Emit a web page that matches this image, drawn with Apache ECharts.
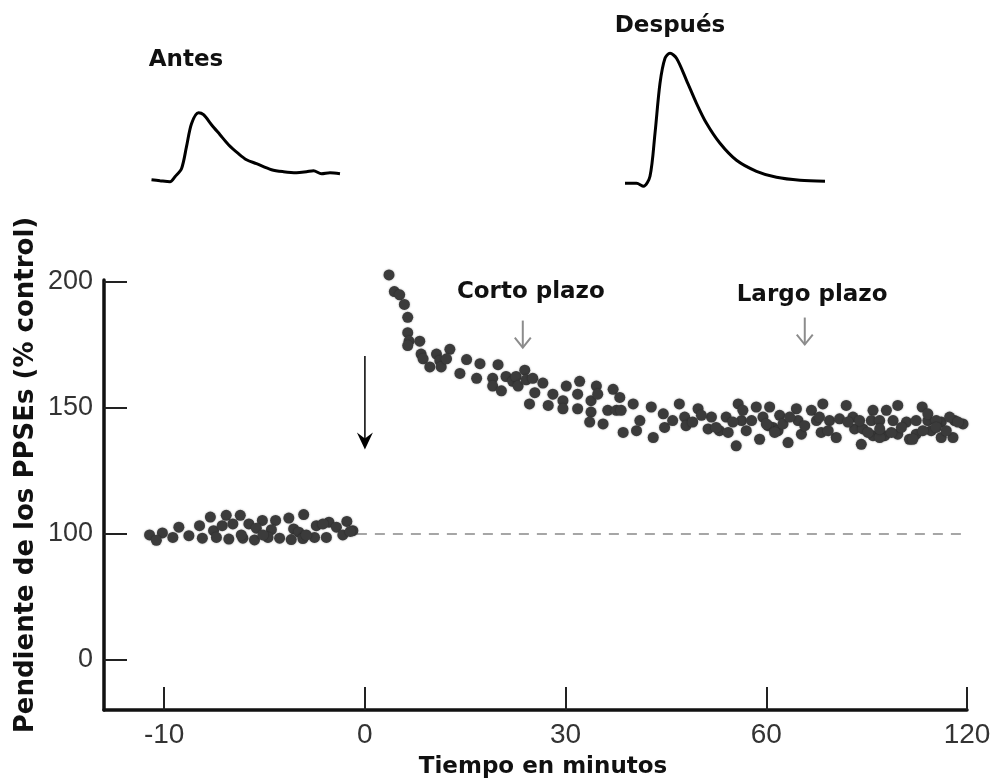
<!DOCTYPE html>
<html><head><meta charset="utf-8">
<script src="https://cdn.jsdelivr.net/npm/echarts@6/dist/echarts.min.js"></script>
<style>html,body{margin:0;padding:0;background:#fff}#c{width:1005px;height:784px}</style>
</head><body><div id="c"></div>
<script>
// ---- tick labels (broken axes: evenly spaced ticks) ----
const tickMinutes = [-10, 0, 30, 60, 120];
const tickValues = [0, 100, 150, 200];

// ---- data: slope of EPSP (% control) vs time (min) ----
const preMinutes = [-7.70,-6.91,-6.21,-5.11,-4.45,-3.79,-3.05,-1.79,-0.90,
  -10.09,-9.27,-8.24,-7.54,-7.11,-6.58,-5.78,-5.41,-4.66,-3.55,-3.29,-2.42,-2.09,-1.42,-0.60,
  -10.73,-10.39,-9.57,-8.77,-8.10,-7.40,-6.78,-6.08,-5.50,-4.83,-4.25,-3.67,-3.09,-2.51,-1.92,-1.10,-2.92,-6.16,-5.08,-0.73];
const preValues = [106.7,107.4,107.4,105.4,105.4,106.3,107.7,104.7,105.0,
  100.4,102.7,103.3,101.3,103.3,104.0,104.0,102.3,101.7,102.0,100.7,103.3,104.0,102.7,101.3,
  99.3,95.0,97.3,98.7,96.7,97.3,96.0,96.7,95.3,97.3,96.7,95.6,96.4,97.3,97.3,99.3,99.3,99.3,99.3,101.0];

const postMinutes = [3.6,4.4,5.2,5.9,6.4,6.4,6.6,8.2,6.4,8.4,8.7,9.7,10.7,11.2,11.4,12.7,12.2,14.2,15.2,16.7,
  17.2,19.9,19.1,19.1,20.4,21.1,22.1,22.6,22.9,23.9,24.1,25.1,25.4,24.6,26.6,27.4,28.1,30.1,29.6,29.6,
  32.1,31.8,31.8,33.8,33.8,34.6,34.8,33.6,35.6,36.3,37.1,37.6,38.1,38.3,38.6,40.1,40.6,41.1,42.8,43.1,
  44.6,44.8,46.0,47.0,47.8,48.0,49.8,51.3,51.8,53.0,54.3,54.0,55.5,55.8,56.3,57.0,57.8,58.5,59.0,59.5,
  61.0,62.0,64.0,63.5,65.0,66.5,69.0,69.5,70.5,73.5,75.0,76.9,76.4,78.9,80.9,81.9,83.9,85.9,86.4,88.4,
  88.9,91.9,91.4,91.9,93.9,95.9,95.4,97.9,99.3,99.3,101.9,102.8,104.8,104.8,106.6,108.3,109.3,112.3,112.3,115.8,
  116.3,118.8,
  49.0,50.3,56.5,60.5,62.5,75.9,87.9,90.4,93.9,97.4,103.8,108.3,110.8,114.8,117.3,
  52.5,55.0,60.0,67.0,71.5,78.5,84.4,93.9,100.4,106.8,110.8,113.8];
const postValues = [202.8,196.2,194.9,191.1,186.0,179.9,176.5,176.5,174.8,171.4,169.5,166.3,171.4,168.8,166.3,173.3,169.5,163.7,169.2,161.8,
  167.6,167.2,161.8,158.7,156.8,162.5,160.6,162.5,158.7,165.0,161.2,161.8,156.1,151.6,159.9,151.0,155.5,158.7,152.9,149.7,
  160.6,155.5,149.7,152.9,148.4,158.7,155.5,144.4,143.7,149.1,157.4,149.1,154.2,149.1,140.3,151.6,141.0,145.0,150.4,138.3,
  147.7,142.3,145.0,151.6,146.4,143.0,149.7,141.7,146.4,141.0,140.3,146.4,135.0,151.6,145.0,141.0,145.0,150.4,137.6,146.4,
  150.4,142.3,147.1,141.0,143.7,136.3,149.7,145.0,139.6,149.1,145.0,151.6,140.3,145.0,138.3,145.7,151.0,146.4,141.7,135.6,
  141.7,149.1,145.0,139.0,145.0,149.1,139.0,145.0,151.0,139.6,144.4,137.6,145.0,139.6,150.4,145.0,141.0,144.4,138.3,138.3,
  145.0,143.7,
  144.4,147.1,149.1,143.0,140.3,146.4,145.0,140.3,138.3,140.3,137.6,147.7,145.0,146.4,144.4,
  142.3,144.4,143.7,146.4,143.0,141.0,144.4,141.7,142.3,141.0,142.3,141.0];

const baselineValue = 100;
const baselineSpan = [-0.4, 120.5];

// ---- EPSP traces (time in ms, amplitude in mV, arbitrary) ----
const antesT = [0.3,2,4,5,6.3,7.3,8.3,9.7,10.7,12.3,14,15.7,17.7,19.3,21.3,24.3,26.7,29.3,31.3,32.7,34.3,36,38];
const antesV = [0.2,0.1,0,0.5,1.3,3.5,5.8,6.9,6.7,5.7,4.7,3.7,2.8,2.2,1.8,1.2,1.0,0.9,1.0,1.1,0.8,0.9,0.8];
const despuesT = [0.4,2.7,4.1,5.4,6.4,7.4,8.4,9.4,10.7,12.7,14.7,16.7,19.4,22.7,26.7,30.7,35.4,40.4];
const despuesV = [0,0,-0.3,0.7,5,10,12.5,13,12.5,10.3,8,6,4,2.3,1.2,0.6,0.3,0.2];

// ---- annotations (in data units) ----
const stimArrow = {minute: 0, from: 170.6, to: 133.5};
const phaseArrows = [
  {label: 'Corto plazo', minute: 23.6, from: 184.7, to: 174.0, textMinute: 24.8, textValue: 196.0},
  {label: 'Largo plazo', minute: 71.5, from: 185.9, to: 175.2, textMinute: 73.7, textValue: 194.7}
];

function interp(x, xs, ys) {
  let i = 0;
  if (x <= xs[0]) i = 0;
  else if (x >= xs[xs.length - 1]) i = xs.length - 2;
  else { while (x > xs[i + 1]) i++; }
  return ys[i] + (x - xs[i]) * (ys[i + 1] - ys[i]) / (xs[i + 1] - xs[i]);
}
const tickU = tickMinutes.map((_, i) => i);
const tickV = tickValues.map((_, i) => i);
const toU = m => interp(m, tickMinutes, tickU);
const toV = v => interp(v, tickValues, tickV);

const chart = echarts.init(document.getElementById('c'), null, {renderer: 'canvas'});
const labelFont = '"Liberation Sans", Arial, sans-serif';
const boldFont = '"DejaVu Sans", sans-serif';
const dotStyle = {color: '#3b3b3b', opacity: 1, shadowBlur: 2, shadowColor: 'rgba(0,0,0,0.35)'};

const option = {
  animation: false,
  backgroundColor: '#fff',
  grid: [
    {left: 104, width: 863, top: 280, height: 430},
    {left: 150, width: 200, top: 106.7, height: 80},
    {left: 623, width: 205, top: 43.3, height: 145}
  ],
  xAxis: [
    {
      type: 'value', gridIndex: 0, min: -0.3, max: 4,
      axisLine: {onZero: false, lineStyle: {color: '#111', width: 3.5}},
      axisTick: {inside: true, length: 23, customValues: tickU, lineStyle: {color: '#222', width: 2}},
      axisLabel: {customValues: tickU, margin: 11, fontSize: 28, color: '#333', fontFamily: labelFont,
        formatter: v => String(tickMinutes[tickU.indexOf(v)])},
      splitLine: {show: false}
    },
    {type: 'value', gridIndex: 1, min: 0, max: 40, show: false},
    {type: 'value', gridIndex: 2, min: 0, max: 41, show: false}
  ],
  yAxis: [
    {
      type: 'value', gridIndex: 0, min: -0.397, max: 3.016,
      axisLine: {show: true, onZero: false, lineStyle: {color: '#111', width: 3.5}},
      axisTick: {show: true, inside: true, length: 23, customValues: tickV, lineStyle: {color: '#222', width: 2}},
      axisLabel: {customValues: tickV, margin: 11, fontSize: 27, color: '#333', fontFamily: labelFont,
        formatter: v => String(tickValues[tickV.indexOf(v)])},
      splitLine: {show: false}
    },
    {type: 'value', gridIndex: 1, min: -0.5, max: 7.5, show: false},
    {type: 'value', gridIndex: 2, min: -0.5, max: 14, show: false}
  ],
  series: [
    {
      type: 'line', xAxisIndex: 0, yAxisIndex: 0, symbol: 'none', z: 1,
      data: baselineSpan.map(m => [toU(m), toV(baselineValue)]),
      lineStyle: {color: '#a6a6a6', width: 2, type: [10, 8]}
    },
    {
      name: 'Antes', type: 'scatter', xAxisIndex: 0, yAxisIndex: 0, symbolSize: 11, z: 3, clip: false,
      data: preMinutes.map((m, i) => [toU(m), toV(preValues[i])]),
      itemStyle: dotStyle
    },
    {
      name: 'Después', type: 'scatter', xAxisIndex: 0, yAxisIndex: 0, symbolSize: 11, z: 3, clip: false,
      data: postMinutes.map((m, i) => [toU(m), toV(postValues[i])]),
      itemStyle: dotStyle
    },
    {
      type: 'line', xAxisIndex: 1, yAxisIndex: 1, showSymbol: false, smooth: 0.3,
      data: antesT.map((t, i) => [t, antesV[i]]),
      lineStyle: {color: '#000', width: 3}
    },
    {
      type: 'line', xAxisIndex: 2, yAxisIndex: 2, showSymbol: false, smooth: 0.3,
      data: despuesT.map((t, i) => [t, despuesV[i]]),
      lineStyle: {color: '#000', width: 3}
    }
  ]
};
chart.setOption(option);

const px = (m, v) => chart.convertToPixel({gridIndex: 0}, [toU(m), toV(v)]);
const graphics = [];
function txt(text, x, y, size, rot) {
  return {
    type: 'text', x: x, y: y, rotation: rot || 0, z: 10,
    style: {text: text, x: 0, y: 0, align: 'center', verticalAlign: 'middle',
      font: 'bold ' + size + 'px ' + boldFont, fill: '#111'}
  };
}
graphics.push(txt('Antes', 186, 60, 23));
graphics.push(txt('Después', 670, 26, 23));
graphics.push(txt('Pendiente de los PPSEs (% control)', 26, 475, 26, Math.PI / 2));
graphics.push(txt('Tiempo en minutos', 543, 767, 23));

// stimulation arrow
{
  const a = px(stimArrow.minute, stimArrow.from), b = px(stimArrow.minute, stimArrow.to);
  const x = a[0];
  graphics.push({type: 'line', z: 10, shape: {x1: x, y1: a[1], x2: x, y2: b[1] - 8}, style: {stroke: '#000', lineWidth: 1.5}});
  graphics.push({type: 'polygon', z: 10, shape: {points: [[x, b[1]], [x - 8, b[1] - 17], [x, b[1] - 11], [x + 8, b[1] - 17]]}, style: {fill: '#000'}});
}
phaseArrows.forEach(p => {
  const a = px(p.minute, p.from), b = px(p.minute, p.to);
  const x = a[0];
  graphics.push({type: 'line', z: 10, shape: {x1: x, y1: a[1], x2: x, y2: b[1]}, style: {stroke: '#8c8c8c', lineWidth: 2}});
  graphics.push({type: 'polyline', z: 10, shape: {points: [[x - 8, b[1] - 10], [x, b[1]], [x + 8, b[1] - 10]]}, style: {stroke: '#8c8c8c', lineWidth: 2, fill: null}});
  const t = px(p.textMinute, p.textValue);
  graphics.push(txt(p.label, t[0], t[1], 23));
});
chart.setOption({graphic: graphics});
</script></body></html>
